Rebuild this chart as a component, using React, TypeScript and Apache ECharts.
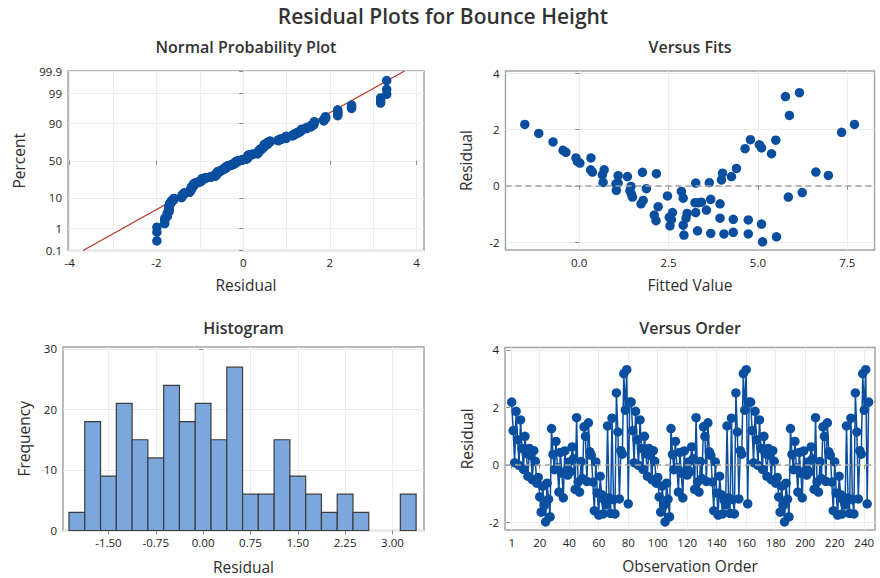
import React, { useEffect, useRef } from "react";
import * as echarts from "echarts";

// Bounce-height experiment: 81 runs (3^4 full factorial), replicated 3 times in run order.
// Residual and fitted value of each run, in standard order.
const RUN_RESIDUALS = [
  2.18, 1.19, 0.07, 1.86, 0.87, -0.02, 1.56, 0.57, -0.16,
  0.99, 0.39, -0.4, 0.57, 0.33, -0.52, 0.49, 0.12, -0.64,
  -0.44, -1.12, -1.65, -0.74, -1.42, -1.99, -0.64, -1.2, -1.81,
  1.26, 0.36, -0.17, 0.81, -0.1, -0.95, 0.43, -0.29, -1.15,
  0.48, -0.2, -0.36, 0.1, -0.24, 0.62, 0.21, -0.86, 1.64,
  -0.6, -0.95, 0.11, -0.48, 1.32, 0.99, -0.58, 1.46, 0.45,
  0.33, -0.6, -1.6, 0.1, -0.98, -1.75, -0.4, -1.04, -1.71,
  -1.24, -1.4, 1.35, -1.15, -1.69, 1.62, -1.21, -1.71, 2.5,
  1.14, -1.19, 0.49, 0.37, 3.17, 1.9, 3.31, -1.36, 2.18,
];
const RUN_FITS = [
  -1.52, -0.37, 1.03, -1.13, -0.05, 1.45, -0.73, 0.32, 1.04,
  -0.09, 0.65, 1.49, 0.7, 1.35, 1.79, 0.37, 0.67, 1.73,
  2.91, 2.52, 4.31, 2.21, 2.54, 5.13, 3.94, 2.58, 5.52,
  -0.45, 1.09, 1.42, 0.02, 1.88, 2.61, 2.16, 1.46, 2.99,
  1.77, 2.86, 2.47, 1.09, 6.24, 4.4, 3.98, 3.56, 4.79,
  3.24, 3.26, 3.64, 3.68, 4.64, 0.33, 3.42, 5.04, 4.01,
  4.26, 3.33, 3.31, 3.26, 3.02, 2.93, 5.85, 2.1, 4.05,
  2.15, 2.91, 5.1, 3.94, 3.68, 5.5, 4.73, 4.73, 5.88,
  5.38, 4.31, 6.62, 6.97, 5.77, 7.34, 6.16, 5.1, 7.7,
];
const REPLICATES = 3;

// Histogram bins: width 0.25, midpoints from -2.00 to 3.25
const BIN_WIDTH = 0.25;
const FIRST_BIN_MID = -2.0;
const BIN_COUNT = 22;

// Axis ticks
const PROB_TICKS = [0.1, 1, 10, 50, 90, 99, 99.9];
const NPP_X_TICKS = [-4, -2, 0, 2, 4];
const NPP_X_MINOR = [-3, -1, 1, 3];
const FITS_X_TICKS = [0, 2.5, 5, 7.5];
const RESID_Y_TICKS = [-2, 0, 2, 4];
const HIST_X_TICKS = [-1.5, -0.75, 0, 0.75, 1.5, 2.25, 3.0];
const HIST_Y_TICKS = [0, 10, 20, 30];
const ORDER_X_TICKS = [1, 20, 40, 60, 80, 100, 120, 140, 160, 180, 200, 220, 240];

const FONT = "'Open Sans', 'Noto Sans', sans-serif";
const BLUE = "#0a4f9f";
const TEXT = "#222222";

// Inverse standard normal CDF (Acklam's rational approximation)
function normInv(p: number): number {
  const a = [-39.69683028665376, 220.9460984245205, -275.9285104469687, 138.357751867269, -30.66479806614716, 2.506628277459239];
  const b = [-54.47609879822406, 161.5858368580409, -155.6989798598866, 66.80131188771972, -13.28068155833025];
  const c = [-0.007784894002430293, -0.3223964580411365, -2.400758277161838, -2.549732539343734, 4.374664141464968, 2.938163982698783];
  const d = [0.007784695709041462, 0.3224671290700398, 2.445134137142996, 3.754408661907416];
  const pl = 0.02425;
  if (p < pl) {
    const q = Math.sqrt(-2 * Math.log(p));
    return (((((c[0] * q + c[1]) * q + c[2]) * q + c[3]) * q + c[4]) * q + c[5]) /
      ((((d[0] * q + d[1]) * q + d[2]) * q + d[3]) * q + 1);
  }
  if (p <= 1 - pl) {
    const q = p - 0.5;
    const r = q * q;
    return ((((((a[0] * r + a[1]) * r + a[2]) * r + a[3]) * r + a[4]) * r + a[5]) * q) /
      (((((b[0] * r + b[1]) * r + b[2]) * r + b[3]) * r + b[4]) * r + 1);
  }
  const q = Math.sqrt(-2 * Math.log(1 - p));
  return -(((((c[0] * q + c[1]) * q + c[2]) * q + c[3]) * q + c[4]) * q + c[5]) /
    ((((d[0] * q + d[1]) * q + d[2]) * q + d[3]) * q + 1);
}

function buildOption() {
  const n = RUN_RESIDUALS.length * REPLICATES;
  const observations: number[] = [];
  for (let k = 0; k < n; k++) observations.push(RUN_RESIDUALS[k % RUN_RESIDUALS.length]);

  // Normal probability plot (median ranks)
  const sorted = [...observations].sort((x, y) => x - y);
  const nppData = sorted.map((r, i) => [r, normInv((i + 1 - 0.3) / (n + 0.4))]);
  const mean = observations.reduce((s, v) => s + v, 0) / n;
  const sd = Math.sqrt(observations.reduce((s, v) => s + (v - mean) ** 2, 0) / (n - 1));
  const zLo = normInv(PROB_TICKS[0] / 100);
  const zHi = normInv(PROB_TICKS[PROB_TICKS.length - 1] / 100);
  const probZ = PROB_TICKS.map((p) => normInv(p / 100));
  const fitLine = [
    [mean + sd * zLo, zLo],
    [mean + sd * zHi, zHi],
  ];

  // Histogram counts
  const counts = new Array(BIN_COUNT).fill(0);
  const lo0 = FIRST_BIN_MID - BIN_WIDTH / 2;
  observations.forEach((r) => {
    const idx = Math.floor((r - lo0) / BIN_WIDTH);
    if (idx >= 0 && idx < BIN_COUNT) counts[idx] += 1;
  });
  const histData = counts
    .map((c, i) => [lo0 + i * BIN_WIDTH, lo0 + (i + 1) * BIN_WIDTH, c])
    .filter((d) => d[2] > 0);

  const fitsData = RUN_FITS.map((f, i) => [f, RUN_RESIDUALS[i]]);
  const orderData = observations.map((r, k) => [k + 1, r]);

  const nameStyle = { color: "#2e2e2e", fontSize: 15.5, fontFamily: FONT };
  const axis = (
    gridIndex: number,
    min: number,
    max: number,
    ticks: number[],
    fmt: (v: number) => string,
    name: string,
    nameGap: number
  ) => ({
    type: "value",
    gridIndex,
    min,
    max,
    name,
    nameGap,
    nameLocation: "middle",
    nameTextStyle: nameStyle,
    axisLine: { show: false },
    axisTick: { show: true, length: 4, customValues: ticks, lineStyle: { color: "#8c8c8c", width: 1 } },
    axisLabel: { customValues: ticks, formatter: fmt, color: TEXT, fontSize: 11.5, fontFamily: FONT, margin: 6 },
    splitLine: { show: true, lineStyle: { color: "#ececec", width: 1 } },
  });

  const intFmt = (v: number) => String(Math.round(v));
  const probFmt = (v: number) => {
    const i = probZ.findIndex((z) => Math.abs(z - v) < 1e-9);
    return i >= 0 ? String(PROB_TICKS[i]) : "";
  };

  const gridStyle = { show: true, borderColor: "#a3a3a3", borderWidth: 1.5, backgroundColor: "#ffffff", containLabel: false };
  const titleStyle = { fontSize: 16, fontWeight: 600, color: "#333333", fontFamily: FONT };
  const zeroLine = {
    silent: true,
    symbol: "none",
    label: { show: false },
    lineStyle: { type: [6, 4], color: "#a0a0a0", width: 1.5 },
    data: [{ yAxis: 0 }],
  };

  return {
    animation: false,
    backgroundColor: "#ffffff",
    title: [
      { text: "Residual Plots for Bounce Height", left: 443, top: 5, padding: 0, textAlign: "center", textStyle: { ...titleStyle, fontSize: 21 } },
      { text: "Normal Probability Plot", left: 246, top: 39, padding: 0, textAlign: "center", textStyle: titleStyle },
      { text: "Versus Fits", left: 690, top: 39, padding: 0, textAlign: "center", textStyle: titleStyle },
      { text: "Histogram", left: 243.5, top: 320, padding: 0, textAlign: "center", textStyle: titleStyle },
      { text: "Versus Order", left: 690, top: 320, padding: 0, textAlign: "center", textStyle: titleStyle },
    ],
    grid: [
      { ...gridStyle, left: 68, top: 71, width: 356, height: 179.5 },
      { ...gridStyle, left: 505.5, top: 71, width: 369, height: 179 },
      { ...gridStyle, left: 63, top: 347, width: 361, height: 183.5 },
      { ...gridStyle, left: 505, top: 347.5, width: 370, height: 182.5 },
    ],
    xAxis: [
      axis(0, -4.04, 4.17, NPP_X_TICKS, intFmt, "Residual", 26),
      axis(1, -2.06, 8.26, FITS_X_TICKS, (v) => v.toFixed(1), "Fitted Value", 27),
      axis(2, -2.22, 3.5, HIST_X_TICKS, (v) => v.toFixed(2), "Residual", 28),
      axis(3, -3.54, 247.3, ORDER_X_TICKS, intFmt, "Observation Order", 28),
      {
        type: "value",
        gridIndex: 0,
        position: "top",
        min: -4.04,
        max: 4.17,
        axisLine: { show: false },
        axisTick: { show: false, customValues: NPP_X_MINOR },
        axisLabel: { show: false },
        splitLine: { show: true, lineStyle: { color: "#ececec", width: 1 } },
      },
    ],
    yAxis: [
      axis(0, zLo, zHi, probZ, probFmt, "Percent", 41),
      axis(1, -2.28, 4.08, RESID_Y_TICKS, intFmt, "Residual", 32),
      axis(2, 0, 30.33, HIST_Y_TICKS, intFmt, "Frequency", 31),
      axis(3, -2.27, 4.08, RESID_Y_TICKS, intFmt, "Residual", 30),
    ],
    series: [
      {
        type: "line",
        xAxisIndex: 0,
        yAxisIndex: 0,
        data: fitLine,
        symbol: "none",
        lineStyle: { color: "#b83a2e", width: 1.2 },
        z: 3,
      },
      {
        type: "scatter",
        xAxisIndex: 0,
        yAxisIndex: 0,
        data: nppData,
        symbol: "circle",
        symbolSize: 9.5,
        itemStyle: { color: BLUE, opacity: 1 },
        z: 4,
      },
      {
        type: "scatter",
        xAxisIndex: 1,
        yAxisIndex: 1,
        data: fitsData,
        symbol: "circle",
        symbolSize: 9.5,
        itemStyle: { color: BLUE, opacity: 1 },
        markLine: zeroLine,
      },
      {
        type: "custom",
        xAxisIndex: 2,
        yAxisIndex: 2,
        data: histData,
        encode: { x: [0, 1], y: 2 },
        renderItem: (_params: any, api: any) => {
          const p0 = api.coord([api.value(0), 0]);
          const p1 = api.coord([api.value(1), api.value(2)]);
          return {
            type: "rect",
            shape: { x: p0[0], y: p1[1], width: p1[0] - p0[0], height: p0[1] - p1[1] },
            style: { fill: "#7ba7dc", stroke: "#3c3c3c", lineWidth: 1.2 },
          };
        },
      },
      {
        type: "line",
        xAxisIndex: 3,
        yAxisIndex: 3,
        data: orderData,
        symbol: "circle",
        symbolSize: 9.5,
        showSymbol: true,
        lineStyle: { color: BLUE, width: 1.5 },
        itemStyle: { color: BLUE, opacity: 1 },
        markLine: zeroLine,
      },
    ],
  };
}

export default function App() {
  const ref = useRef<HTMLDivElement>(null);
  useEffect(() => {
    if (!ref.current) return;
    const chart = echarts.init(ref.current, null, { renderer: "svg" });
    chart.setOption(buildOption() as any);
    return () => chart.dispose();
  }, []);
  return (
    <div
      ref={ref}
      style={{ position: "fixed", left: 0, top: 0, width: 880, height: 578, background: "#ffffff" }}
    />
  );
}
